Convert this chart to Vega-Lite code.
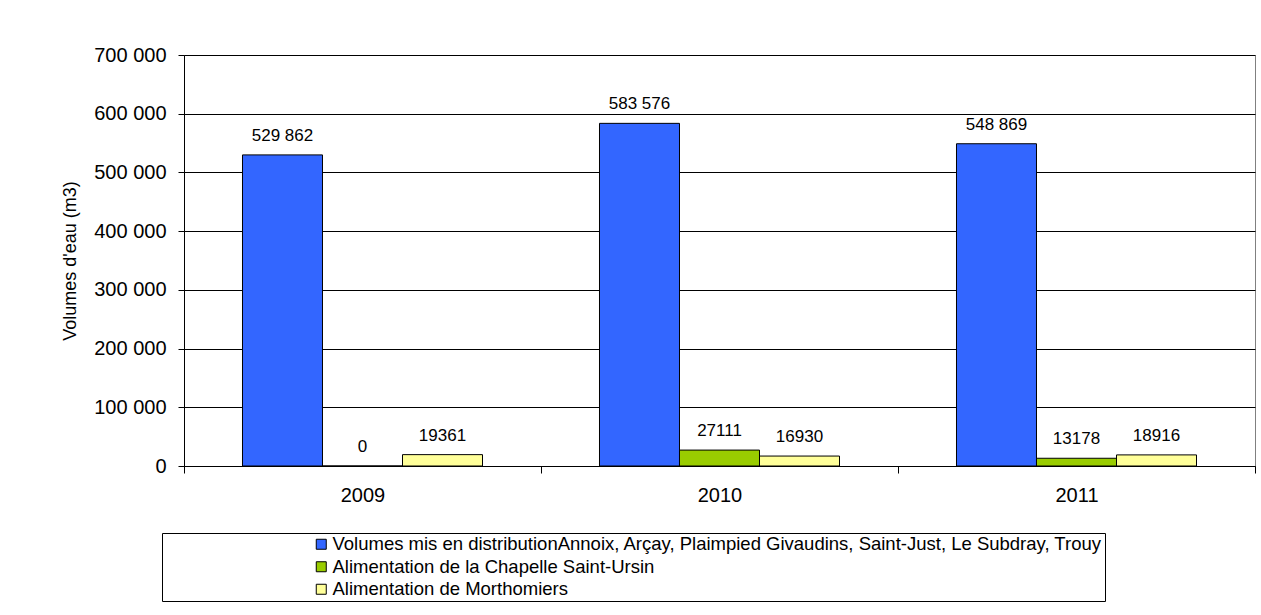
{
  "$schema": "https://vega.github.io/schema/vega-lite/v6.json",
  "autosize": "none",
  "width": 1071,
  "height": 411,
  "padding": {"left": 184, "top": 55, "right": 6, "bottom": 149},
  "background": "white",
  "config": {
    "font": "Liberation Sans",
    "locale": {"number": {"decimal": ",", "thousands": " ", "grouping": [3], "currency": ["", " €"]}},
    "view": {"stroke": "#808080", "strokeWidth": 1}
  },
  "data": {
    "values": [
      {"year": "2009", "series": "Volumes mis en distributionAnnoix, Arçay, Plaimpied Givaudins, Saint-Just, Le Subdray, Trouy", "value": 529862, "label": "529 862"},
      {"year": "2009", "series": "Alimentation de la Chapelle Saint-Ursin", "value": 0, "label": "0"},
      {"year": "2009", "series": "Alimentation de Morthomiers", "value": 19361, "label": "19361"},
      {"year": "2010", "series": "Volumes mis en distributionAnnoix, Arçay, Plaimpied Givaudins, Saint-Just, Le Subdray, Trouy", "value": 583576, "label": "583 576"},
      {"year": "2010", "series": "Alimentation de la Chapelle Saint-Ursin", "value": 27111, "label": "27111"},
      {"year": "2010", "series": "Alimentation de Morthomiers", "value": 16930, "label": "16930"},
      {"year": "2011", "series": "Volumes mis en distributionAnnoix, Arçay, Plaimpied Givaudins, Saint-Just, Le Subdray, Trouy", "value": 548869, "label": "548 869"},
      {"year": "2011", "series": "Alimentation de la Chapelle Saint-Ursin", "value": 13178, "label": "13178"},
      {"year": "2011", "series": "Alimentation de Morthomiers", "value": 18916, "label": "18916"}
    ]
  },
  "encoding": {
    "x": {
      "field": "year", "type": "nominal",
      "scale": {"paddingInner": 0, "paddingOuter": 0},
      "axis": {
        "title": null, "labelAngle": 0, "labelFontSize": 20, "labelColor": "black",
        "labelPadding": 12, "tickBand": "extent", "tickSize": 7, "tickColor": "black",
        "domainColor": "black", "grid": false
      }
    },
    "xOffset": {
      "field": "series", "type": "nominal",
      "sort": ["Volumes mis en distributionAnnoix, Arçay, Plaimpied Givaudins, Saint-Just, Le Subdray, Trouy", "Alimentation de la Chapelle Saint-Ursin", "Alimentation de Morthomiers"],
      "scale": {"paddingInner": 0, "paddingOuter": 0.731}
    },
    "y": {
      "field": "value", "type": "quantitative",
      "scale": {"domain": [0, 700000], "nice": false},
      "axis": {
        "title": "Volumes d'eau (m3)", "titleFontSize": 18, "titleFontWeight": "normal", "titleColor": "black",
        "titlePadding": 14,
        "values": [0, 100000, 200000, 300000, 400000, 500000, 600000, 700000],
        "format": ",d", "labelFontSize": 20, "labelColor": "black", "labelPadding": 12,
        "tickSize": 6, "tickColor": "black", "domainColor": "black",
        "grid": true, "gridColor": "black", "gridOpacity": 1
      }
    }
  },
  "layer": [
    {
      "mark": {"type": "bar", "stroke": "black", "strokeWidth": 1},
      "encoding": {
        "color": {
          "field": "series", "type": "nominal",
          "sort": ["Volumes mis en distributionAnnoix, Arçay, Plaimpied Givaudins, Saint-Just, Le Subdray, Trouy", "Alimentation de la Chapelle Saint-Ursin", "Alimentation de Morthomiers"],
          "scale": {
            "domain": ["Volumes mis en distributionAnnoix, Arçay, Plaimpied Givaudins, Saint-Just, Le Subdray, Trouy", "Alimentation de la Chapelle Saint-Ursin", "Alimentation de Morthomiers"],
            "range": ["#3366FF", "#99CC00", "#FFFF99"]
          },
          "legend": {
            "title": null, "orient": "none", "legendX": -22, "legendY": 478,
            "direction": "vertical",
            "strokeColor": "black", "padding": 2,
            "symbolType": "square", "symbolSize": 100, "symbolStrokeColor": "black", "symbolStrokeWidth": 1,
            "symbolOffset": 148, "labelOffset": 2, "labelFontSize": 18.5, "labelColor": "black",
            "rowPadding": 3.5, "labelLimit": 1200
          }
        }
      }
    },
    {
      "mark": {"type": "text", "fontSize": 17, "color": "black", "baseline": "alphabetic", "dy": -14},
      "encoding": {
        "text": {"field": "label"}
      }
    }
  ]
}
